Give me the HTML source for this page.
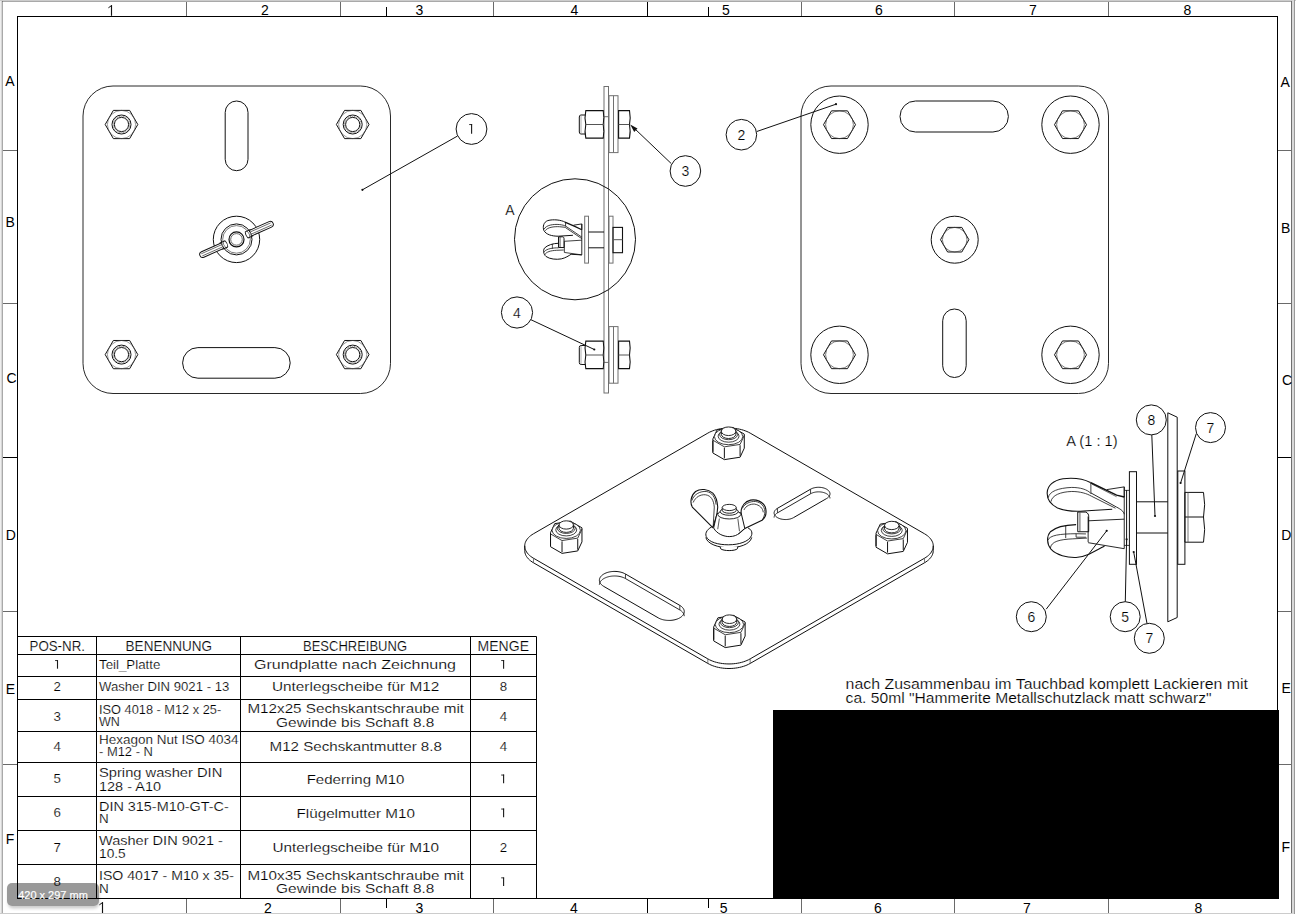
<!DOCTYPE html>
<html><head><meta charset="utf-8"><style>
html,body{margin:0;padding:0;background:#fff;width:1296px;height:914px;overflow:hidden}
svg{display:block}
text{font-family:"Liberation Sans",sans-serif;stroke:#fff;stroke-width:0.18px}
</style></head><body>
<svg width="1296" height="914" viewBox="0 0 1296 914">
<rect x="0" y="0" width="1" height="914" fill="#eeeeee" stroke="none" stroke-width="1" rx="0" />
<rect x="1" y="0" width="1" height="914" fill="#d6d6d6" stroke="none" stroke-width="1" rx="0" />
<rect x="2" y="0" width="1" height="913" fill="#a9a9a9" stroke="none" stroke-width="1" rx="0" />
<rect x="0" y="0" width="1296" height="1" fill="#cccccc" stroke="none" stroke-width="1" rx="0" />
<rect x="2" y="1" width="1289" height="1" fill="#a9a9a9" stroke="none" stroke-width="1" rx="0" />
<rect x="2" y="1" width="1" height="1" fill="#777" stroke="none" stroke-width="1" rx="0" />
<rect x="1291" y="1" width="1" height="912" fill="#707070" stroke="none" stroke-width="1" rx="0" />
<rect x="1292" y="0" width="2" height="914" fill="#d8d8d8" stroke="none" stroke-width="1" rx="0" />
<rect x="1294" y="0" width="1" height="914" fill="#999999" stroke="none" stroke-width="1" rx="0" />
<rect x="0" y="913" width="1292" height="1" fill="#cccccc" stroke="none" stroke-width="1" rx="0" />
<rect x="17.5" y="16.5" width="1260" height="882" fill="none" stroke="#000" stroke-width="1" rx="0" />
<line x1="186.5" y1="2" x2="186.5" y2="16" stroke="#6a6a6a" stroke-width="1" />
<line x1="186.5" y1="899" x2="186.5" y2="913" stroke="#6a6a6a" stroke-width="1" />
<line x1="340.5" y1="2" x2="340.5" y2="16" stroke="#6a6a6a" stroke-width="1" />
<line x1="340.5" y1="899" x2="340.5" y2="913" stroke="#6a6a6a" stroke-width="1" />
<line x1="493.5" y1="2" x2="493.5" y2="16" stroke="#6a6a6a" stroke-width="1" />
<line x1="493.5" y1="899" x2="493.5" y2="913" stroke="#6a6a6a" stroke-width="1" />
<line x1="801.5" y1="2" x2="801.5" y2="16" stroke="#6a6a6a" stroke-width="1" />
<line x1="801.5" y1="899" x2="801.5" y2="913" stroke="#6a6a6a" stroke-width="1" />
<line x1="954.5" y1="2" x2="954.5" y2="16" stroke="#6a6a6a" stroke-width="1" />
<line x1="954.5" y1="899" x2="954.5" y2="913" stroke="#6a6a6a" stroke-width="1" />
<line x1="1108.5" y1="2" x2="1108.5" y2="16" stroke="#6a6a6a" stroke-width="1" />
<line x1="1108.5" y1="899" x2="1108.5" y2="913" stroke="#6a6a6a" stroke-width="1" />
<line x1="647.5" y1="2" x2="647.5" y2="16" stroke="#000" stroke-width="1" />
<line x1="647.5" y1="899" x2="647.5" y2="913" stroke="#000" stroke-width="1" />
<line x1="386.5" y1="7" x2="386.5" y2="16" stroke="#000" stroke-width="1" />
<line x1="386.5" y1="899" x2="386.5" y2="908" stroke="#000" stroke-width="1" />
<line x1="708.5" y1="7" x2="708.5" y2="16" stroke="#000" stroke-width="1" />
<line x1="708.5" y1="899" x2="708.5" y2="908" stroke="#000" stroke-width="1" />
<line x1="3" y1="150.5" x2="17" y2="150.5" stroke="#6a6a6a" stroke-width="1" />
<line x1="1278" y1="150.5" x2="1291" y2="150.5" stroke="#6a6a6a" stroke-width="1" />
<line x1="3" y1="303.5" x2="17" y2="303.5" stroke="#6a6a6a" stroke-width="1" />
<line x1="1278" y1="303.5" x2="1291" y2="303.5" stroke="#6a6a6a" stroke-width="1" />
<line x1="3" y1="611.5" x2="17" y2="611.5" stroke="#6a6a6a" stroke-width="1" />
<line x1="1278" y1="611.5" x2="1291" y2="611.5" stroke="#6a6a6a" stroke-width="1" />
<line x1="3" y1="764.5" x2="17" y2="764.5" stroke="#6a6a6a" stroke-width="1" />
<line x1="1278" y1="764.5" x2="1291" y2="764.5" stroke="#6a6a6a" stroke-width="1" />
<line x1="3" y1="457.5" x2="17" y2="457.5" stroke="#000" stroke-width="1" />
<line x1="1278" y1="457.5" x2="1291" y2="457.5" stroke="#000" stroke-width="1" />
<path d="M111.5,5.2 L111.5,15.8" stroke="#111" stroke-width="1.15" fill="none"/>
<path d="M111.8,5.4 L108.4,7.8" stroke="#111" stroke-width="1" fill="none"/>
<text x="265" y="14.8" font-size="14" text-anchor="middle" fill="#000" font-family="Liberation Sans" style="stroke:none">2</text>
<text x="419.5" y="14.8" font-size="14" text-anchor="middle" fill="#000" font-family="Liberation Sans" style="stroke:none">3</text>
<text x="574.5" y="14.8" font-size="14" text-anchor="middle" fill="#000" font-family="Liberation Sans" style="stroke:none">4</text>
<text x="725.8" y="14.8" font-size="14" text-anchor="middle" fill="#000" font-family="Liberation Sans" style="stroke:none">5</text>
<text x="879" y="14.8" font-size="14" text-anchor="middle" fill="#000" font-family="Liberation Sans" style="stroke:none">6</text>
<text x="1033" y="14.8" font-size="14" text-anchor="middle" fill="#000" font-family="Liberation Sans" style="stroke:none">7</text>
<text x="1187.5" y="14.8" font-size="14" text-anchor="middle" fill="#000" font-family="Liberation Sans" style="stroke:none">8</text>
<path d="M102.5,902.2 L102.5,913" stroke="#111" stroke-width="1.15" fill="none"/>
<path d="M102.8,902.4 L99.4,904.8" stroke="#111" stroke-width="1" fill="none"/>
<text x="268" y="913" font-size="14" text-anchor="middle" fill="#000" font-family="Liberation Sans" style="stroke:none">2</text>
<text x="419.5" y="913" font-size="14" text-anchor="middle" fill="#000" font-family="Liberation Sans" style="stroke:none">3</text>
<text x="574" y="913" font-size="14" text-anchor="middle" fill="#000" font-family="Liberation Sans" style="stroke:none">4</text>
<text x="723.7" y="913" font-size="14" text-anchor="middle" fill="#000" font-family="Liberation Sans" style="stroke:none">5</text>
<text x="878" y="913" font-size="14" text-anchor="middle" fill="#000" font-family="Liberation Sans" style="stroke:none">6</text>
<text x="1026.8" y="913" font-size="14" text-anchor="middle" fill="#000" font-family="Liberation Sans" style="stroke:none">7</text>
<text x="1198.4" y="913" font-size="14" text-anchor="middle" fill="#000" font-family="Liberation Sans" style="stroke:none">8</text>
<text x="9.9" y="85.7" font-size="14" text-anchor="middle" fill="#000" font-family="Liberation Sans" style="stroke:none">A</text>
<text x="10.2" y="226.5" font-size="14" text-anchor="middle" fill="#000" font-family="Liberation Sans" style="stroke:none">B</text>
<text x="11.5" y="383" font-size="14" text-anchor="middle" fill="#000" font-family="Liberation Sans" style="stroke:none">C</text>
<text x="10.7" y="539.7" font-size="14" text-anchor="middle" fill="#000" font-family="Liberation Sans" style="stroke:none">D</text>
<text x="10.5" y="693.7" font-size="14" text-anchor="middle" fill="#000" font-family="Liberation Sans" style="stroke:none">E</text>
<text x="10.1" y="843.6" font-size="14" text-anchor="middle" fill="#000" font-family="Liberation Sans" style="stroke:none">F</text>
<text x="1285.2" y="86.6" font-size="14" text-anchor="middle" fill="#000" font-family="Liberation Sans" style="stroke:none">A</text>
<text x="1285.7" y="233.2" font-size="14" text-anchor="middle" fill="#000" font-family="Liberation Sans" style="stroke:none">B</text>
<text x="1287.1" y="385" font-size="14" text-anchor="middle" fill="#000" font-family="Liberation Sans" style="stroke:none">C</text>
<text x="1286.3" y="540" font-size="14" text-anchor="middle" fill="#000" font-family="Liberation Sans" style="stroke:none">D</text>
<text x="1286.1" y="693" font-size="14" text-anchor="middle" fill="#000" font-family="Liberation Sans" style="stroke:none">E</text>
<text x="1285.8" y="852" font-size="14" text-anchor="middle" fill="#000" font-family="Liberation Sans" style="stroke:none">F</text>
<line x1="17.5" y1="636.5" x2="17.5" y2="898.5" stroke="#000" stroke-width="1" />
<line x1="96.5" y1="636.5" x2="96.5" y2="898.5" stroke="#000" stroke-width="1" />
<line x1="240.5" y1="636.5" x2="240.5" y2="898.5" stroke="#000" stroke-width="1" />
<line x1="470.5" y1="636.5" x2="470.5" y2="898.5" stroke="#000" stroke-width="1" />
<line x1="536.5" y1="636.5" x2="536.5" y2="898.5" stroke="#000" stroke-width="1" />
<line x1="17.5" y1="636.5" x2="536.5" y2="636.5" stroke="#000" stroke-width="1" />
<line x1="17.5" y1="654.5" x2="536.5" y2="654.5" stroke="#000" stroke-width="1" />
<line x1="17.5" y1="676.5" x2="536.5" y2="676.5" stroke="#000" stroke-width="1" />
<line x1="17.5" y1="699.5" x2="536.5" y2="699.5" stroke="#000" stroke-width="1" />
<line x1="17.5" y1="731.5" x2="536.5" y2="731.5" stroke="#000" stroke-width="1" />
<line x1="17.5" y1="762.5" x2="536.5" y2="762.5" stroke="#000" stroke-width="1" />
<line x1="17.5" y1="796.5" x2="536.5" y2="796.5" stroke="#000" stroke-width="1" />
<line x1="17.5" y1="830.5" x2="536.5" y2="830.5" stroke="#000" stroke-width="1" />
<line x1="17.5" y1="864.5" x2="536.5" y2="864.5" stroke="#000" stroke-width="1" />
<line x1="17.5" y1="898.5" x2="536.5" y2="898.5" stroke="#000" stroke-width="1" />
<text x="29.5" y="651.1" font-size="14" text-anchor="start" fill="#000" font-family="Liberation Sans" textLength="55.5" lengthAdjust="spacingAndGlyphs" >POS-NR.</text>
<text x="125.6" y="651.1" font-size="14" text-anchor="start" fill="#000" font-family="Liberation Sans" textLength="86.4" lengthAdjust="spacingAndGlyphs" >BENENNUNG</text>
<text x="303" y="651.1" font-size="14" text-anchor="start" fill="#000" font-family="Liberation Sans" textLength="104" lengthAdjust="spacingAndGlyphs" >BESCHREIBUNG</text>
<text x="477.6" y="651.1" font-size="14" text-anchor="start" fill="#000" font-family="Liberation Sans" textLength="51.4" lengthAdjust="spacingAndGlyphs" >MENGE</text>
<path d="M57.5,660.1 L57.5,668.7" stroke="#1a1a1a" stroke-width="1.1" fill="none"/>
<path d="M55.1,660.55 L58,660.55" stroke="#1a1a1a" stroke-width="0.9" fill="none"/>
<path d="M503.6,660.1 L503.6,668.7" stroke="#1a1a1a" stroke-width="1.1" fill="none"/>
<path d="M501.2,660.55 L504.1,660.55" stroke="#1a1a1a" stroke-width="0.9" fill="none"/>
<text x="57.2" y="691" font-size="13.3" text-anchor="middle" fill="#000" font-family="Liberation Sans" >2</text>
<text x="503.5" y="691" font-size="13.3" text-anchor="middle" fill="#000" font-family="Liberation Sans" >8</text>
<text x="57.2" y="720.8" font-size="13.3" text-anchor="middle" fill="#000" font-family="Liberation Sans" >3</text>
<text x="503.5" y="720.8" font-size="13.3" text-anchor="middle" fill="#000" font-family="Liberation Sans" >4</text>
<text x="57.2" y="751.3" font-size="13.3" text-anchor="middle" fill="#000" font-family="Liberation Sans" >4</text>
<text x="503.5" y="751.3" font-size="13.3" text-anchor="middle" fill="#000" font-family="Liberation Sans" >4</text>
<text x="57.2" y="783.2" font-size="13.3" text-anchor="middle" fill="#000" font-family="Liberation Sans" >5</text>
<path d="M503.6,774.6 L503.6,783.2" stroke="#1a1a1a" stroke-width="1.1" fill="none"/>
<path d="M501.2,775.05 L504.1,775.05" stroke="#1a1a1a" stroke-width="0.9" fill="none"/>
<text x="57.2" y="817.2" font-size="13.3" text-anchor="middle" fill="#000" font-family="Liberation Sans" >6</text>
<path d="M503.6,808.6 L503.6,817.2" stroke="#1a1a1a" stroke-width="1.1" fill="none"/>
<path d="M501.2,809.05 L504.1,809.05" stroke="#1a1a1a" stroke-width="0.9" fill="none"/>
<text x="57.2" y="852" font-size="13.3" text-anchor="middle" fill="#000" font-family="Liberation Sans" >7</text>
<text x="503.5" y="852" font-size="13.3" text-anchor="middle" fill="#000" font-family="Liberation Sans" >2</text>
<text x="57.2" y="886" font-size="13.3" text-anchor="middle" fill="#000" font-family="Liberation Sans" >8</text>
<path d="M503.6,877.4 L503.6,886" stroke="#1a1a1a" stroke-width="1.1" fill="none"/>
<path d="M501.2,877.85 L504.1,877.85" stroke="#1a1a1a" stroke-width="0.9" fill="none"/>
<text x="99" y="668.7" font-size="12.8" text-anchor="start" fill="#000" font-family="Liberation Sans" textLength="61.3" lengthAdjust="spacingAndGlyphs" >Teil_Platte</text>
<text x="99" y="691" font-size="13" text-anchor="start" fill="#000" font-family="Liberation Sans" textLength="130.3" lengthAdjust="spacingAndGlyphs" >Washer DIN 9021 - 13</text>
<text x="99" y="713.9" font-size="12.7" text-anchor="start" fill="#000" font-family="Liberation Sans" textLength="122.2" lengthAdjust="spacingAndGlyphs" >ISO 4018 - M12 x 25-</text>
<text x="99" y="725.8" font-size="12.7" text-anchor="start" fill="#000" font-family="Liberation Sans" textLength="20.9" lengthAdjust="spacingAndGlyphs" >WN</text>
<text x="99" y="743.9" font-size="12.6" text-anchor="start" fill="#000" font-family="Liberation Sans" textLength="139.5" lengthAdjust="spacingAndGlyphs" >Hexagon Nut ISO 4034</text>
<text x="99" y="756.4" font-size="12.6" text-anchor="start" fill="#000" font-family="Liberation Sans" textLength="53.9" lengthAdjust="spacingAndGlyphs" >- M12 - N</text>
<text x="99" y="776.8" font-size="13.5" text-anchor="start" fill="#000" font-family="Liberation Sans" textLength="123.3" lengthAdjust="spacingAndGlyphs" >Spring washer DIN</text>
<text x="99" y="790.7" font-size="13.5" text-anchor="start" fill="#000" font-family="Liberation Sans" textLength="62" lengthAdjust="spacingAndGlyphs" >128 - A10</text>
<text x="99" y="810.9" font-size="13.4" text-anchor="start" fill="#000" font-family="Liberation Sans" textLength="129.7" lengthAdjust="spacingAndGlyphs" >DIN 315-M10-GT-C-</text>
<text x="99" y="823.4" font-size="13.4" text-anchor="start" fill="#000" font-family="Liberation Sans" >N</text>
<text x="99" y="844.8" font-size="13.5" text-anchor="start" fill="#000" font-family="Liberation Sans" textLength="123.9" lengthAdjust="spacingAndGlyphs" >Washer DIN 9021 -</text>
<text x="99" y="857.9" font-size="13.5" text-anchor="start" fill="#000" font-family="Liberation Sans" textLength="26.7" lengthAdjust="spacingAndGlyphs" >10.5</text>
<text x="99" y="879.5" font-size="13.5" text-anchor="start" fill="#000" font-family="Liberation Sans" textLength="134.9" lengthAdjust="spacingAndGlyphs" >ISO 4017 - M10 x 35-</text>
<text x="99" y="893.4" font-size="13.5" text-anchor="start" fill="#000" font-family="Liberation Sans" >N</text>
<text x="254" y="668.7" font-size="13.5" text-anchor="start" fill="#000" font-family="Liberation Sans" textLength="202" lengthAdjust="spacingAndGlyphs" >Grundplatte nach Zeichnung</text>
<text x="271.9" y="691" font-size="13.5" text-anchor="start" fill="#000" font-family="Liberation Sans" textLength="167.4" lengthAdjust="spacingAndGlyphs" >Unterlegscheibe für M12</text>
<text x="247.4" y="712.8" font-size="13.5" text-anchor="start" fill="#000" font-family="Liberation Sans" textLength="216.7" lengthAdjust="spacingAndGlyphs" >M12x25 Sechskantschraube mit</text>
<text x="276.1" y="726.7" font-size="13.5" text-anchor="start" fill="#000" font-family="Liberation Sans" textLength="158.3" lengthAdjust="spacingAndGlyphs" >Gewinde bis Schaft 8.8</text>
<text x="269.6" y="750.8" font-size="13.5" text-anchor="start" fill="#000" font-family="Liberation Sans" textLength="172.3" lengthAdjust="spacingAndGlyphs" >M12 Sechskantmutter 8.8</text>
<text x="306.7" y="783.7" font-size="13.5" text-anchor="start" fill="#000" font-family="Liberation Sans" textLength="97.7" lengthAdjust="spacingAndGlyphs" >Federring M10</text>
<text x="296.5" y="817.8" font-size="13.5" text-anchor="start" fill="#000" font-family="Liberation Sans" textLength="118.5" lengthAdjust="spacingAndGlyphs" >Flügelmutter M10</text>
<text x="272.4" y="851.9" font-size="13.5" text-anchor="start" fill="#000" font-family="Liberation Sans" textLength="166.7" lengthAdjust="spacingAndGlyphs" >Unterlegscheibe für M10</text>
<text x="247.4" y="880" font-size="13.5" text-anchor="start" fill="#000" font-family="Liberation Sans" textLength="216.7" lengthAdjust="spacingAndGlyphs" >M10x35 Sechskantschraube mit</text>
<text x="276.1" y="893.3" font-size="13.5" text-anchor="start" fill="#000" font-family="Liberation Sans" textLength="158.3" lengthAdjust="spacingAndGlyphs" >Gewinde bis Schaft 8.8</text>
<text x="845.6" y="689.1" font-size="14.4" text-anchor="start" fill="#000" font-family="Liberation Sans" textLength="402.4" lengthAdjust="spacingAndGlyphs" >nach Zusammenbau im Tauchbad komplett Lackieren mit</text>
<text x="845.6" y="702.6" font-size="14.4" text-anchor="start" fill="#000" font-family="Liberation Sans" textLength="366" lengthAdjust="spacingAndGlyphs" >ca. 50ml &quot;Hammerite Metallschutzlack matt schwarz&quot;</text>
<rect x="773" y="710" width="506" height="189" fill="#000" stroke="none" stroke-width="1" rx="0" />
<defs><filter id="sh" x="-20%" y="-40%" width="140%" height="190%"><feGaussianBlur stdDeviation="1.6"/></filter></defs>
<mask id="bm"><rect x="0" y="860" width="130" height="54" fill="#fff"/><rect x="7" y="883" width="92" height="23" rx="5" fill="#000"/></mask>
<g mask="url(#bm)"><rect x="8" y="885.5" width="91" height="23" rx="5" fill="#000" fill-opacity="0.2" filter="url(#sh)"/></g>
<rect x="7" y="883" width="92" height="23" rx="5" fill="#000" fill-opacity="0.4"/>
<text x="53" y="898.5" font-size="11" text-anchor="middle" fill="#fff" font-family="Liberation Sans" >420 x 297 mm</text>
<rect x="83" y="86" width="307.5" height="307.5" fill="none" stroke="#111" stroke-width="0.9" rx="30" />
<path d="M137.8,124.5 L129.65,138.62 L113.35,138.62 L105.2,124.5 L113.35,110.38 L129.65,110.38 Z" stroke="#111" stroke-width="1" fill="none" />
<circle cx="121.5" cy="124.5" r="14.1" stroke="#555" stroke-width="0.6" fill="none" />
<circle cx="121.5" cy="124.5" r="9.5" stroke="#111" stroke-width="1" fill="none" />
<circle cx="121.5" cy="124.5" r="8.3" stroke="#777" stroke-width="1" fill="none" stroke-dasharray="1.2 0.8"/>
<circle cx="121.5" cy="124.5" r="7.1" stroke="#111" stroke-width="1" fill="none" />
<path d="M137.8,354.6 L129.65,368.72 L113.35,368.72 L105.2,354.6 L113.35,340.48 L129.65,340.48 Z" stroke="#111" stroke-width="1" fill="none" />
<circle cx="121.5" cy="354.6" r="14.1" stroke="#555" stroke-width="0.6" fill="none" />
<circle cx="121.5" cy="354.6" r="9.5" stroke="#111" stroke-width="1" fill="none" />
<circle cx="121.5" cy="354.6" r="8.3" stroke="#777" stroke-width="1" fill="none" stroke-dasharray="1.2 0.8"/>
<circle cx="121.5" cy="354.6" r="7.1" stroke="#111" stroke-width="1" fill="none" />
<path d="M369,124.5 L360.85,138.62 L344.55,138.62 L336.4,124.5 L344.55,110.38 L360.85,110.38 Z" stroke="#111" stroke-width="1" fill="none" />
<circle cx="352.7" cy="124.5" r="14.1" stroke="#555" stroke-width="0.6" fill="none" />
<circle cx="352.7" cy="124.5" r="9.5" stroke="#111" stroke-width="1" fill="none" />
<circle cx="352.7" cy="124.5" r="8.3" stroke="#777" stroke-width="1" fill="none" stroke-dasharray="1.2 0.8"/>
<circle cx="352.7" cy="124.5" r="7.1" stroke="#111" stroke-width="1" fill="none" />
<path d="M369,354.6 L360.85,368.72 L344.55,368.72 L336.4,354.6 L344.55,340.48 L360.85,340.48 Z" stroke="#111" stroke-width="1" fill="none" />
<circle cx="352.7" cy="354.6" r="14.1" stroke="#555" stroke-width="0.6" fill="none" />
<circle cx="352.7" cy="354.6" r="9.5" stroke="#111" stroke-width="1" fill="none" />
<circle cx="352.7" cy="354.6" r="8.3" stroke="#777" stroke-width="1" fill="none" stroke-dasharray="1.2 0.8"/>
<circle cx="352.7" cy="354.6" r="7.1" stroke="#111" stroke-width="1" fill="none" />
<rect x="225.2" y="101" width="22.8" height="69.7" fill="none" stroke="#111" stroke-width="1" rx="11.4" />
<rect x="182.6" y="347.6" width="107.6" height="30.6" fill="none" stroke="#111" stroke-width="1" rx="15.3" />
<circle cx="236.5" cy="239.4" r="23.2" stroke="#111" stroke-width="1" fill="none" />
<g transform="translate(236.5,239.4) rotate(-24)"><rect x="-40" y="-3" width="80" height="6" rx="3" fill="#fff" stroke="#111" stroke-width="1"/><line x1="-38" y1="-1.2" x2="38" y2="-1.2" stroke="#444" stroke-width="0.7"/><line x1="-38" y1="1.2" x2="38" y2="1.2" stroke="#444" stroke-width="0.7"/></g>
<circle cx="236.5" cy="239.4" r="15.5" stroke="#111" stroke-width="1" fill="#fff" />
<circle cx="236.5" cy="239.4" r="13.8" stroke="#444" stroke-width="0.7" fill="none" />
<g transform="translate(236.5,239.4) rotate(-24)"><path d="M11,-3.4 L17,-3.4 M11,3.4 L17,3.4 M11,-3.4 Q9.6,0 11,3.4" fill="none" stroke="#111" stroke-width="0.9"/><path d="M-11,-3.4 L-17,-3.4 M-11,3.4 L-17,3.4 M-11,-3.4 Q-9.6,0 -11,3.4" fill="none" stroke="#111" stroke-width="0.9"/></g>
<circle cx="236.5" cy="239.4" r="7.5" stroke="#111" stroke-width="1.2" fill="none" />
<circle cx="236.5" cy="239.4" r="5.8" stroke="#444" stroke-width="0.8" fill="none" />
<line x1="362.4" y1="189.8" x2="457.4" y2="136.1" stroke="#111" stroke-width="1" />
<circle cx="362.4" cy="189.8" r="1.1" stroke="none" stroke-width="1" fill="#111" />
<circle cx="471.5" cy="129" r="15.4" stroke="#111" stroke-width="1" fill="none" />
<path d="M471.6,124.1 L471.6,133.8" stroke="#1a1a1a" stroke-width="1.1" fill="none"/><path d="M469.2,124.55 L472.1,124.55" stroke="#1a1a1a" stroke-width="0.9" fill="none"/>
<rect x="604" y="86.5" width="4.5" height="306.5" fill="none" stroke="#707070" stroke-width="1" rx="0" />
<line x1="604" y1="116.7" x2="608.5" y2="116.7" stroke="#707070" stroke-width="1" />
<line x1="604" y1="362.4" x2="608.5" y2="362.4" stroke="#707070" stroke-width="1" />
<rect x="609" y="95.7" width="9" height="56.9" fill="none" stroke="#707070" stroke-width="1" rx="0" />
<line x1="613.5" y1="95.7" x2="613.5" y2="152.6" stroke="#707070" stroke-width="1" />
<rect x="609" y="326.6" width="9" height="56.6" fill="none" stroke="#707070" stroke-width="1" rx="0" />
<line x1="613.5" y1="326.6" x2="613.5" y2="383.2" stroke="#707070" stroke-width="1" />
<path d="M603.7,110.6 L585.8,110.6 Q584.3,117.5 585.8,124.5 Q584.3,131.5 585.8,138.1 L603.7,138.1" stroke="#111" stroke-width="1.1" fill="none" />
<path d="M603.2,110.6 Q604.5,117.5 603.2,124.5 Q604.5,131.5 603.2,138.1" stroke="#111" stroke-width="1" fill="none" />
<line x1="585.8" y1="124.5" x2="603.4" y2="124.5" stroke="#555" stroke-width="1" />
<path d="M585.3,115 L581,115 Q579.3,115 579.3,117 L579.3,132 Q579.3,134 581,134 L585.3,134" stroke="#111" stroke-width="1" fill="none" />
<line x1="581" y1="115" x2="581" y2="134" stroke="#999" stroke-width="0.8" />
<path d="M618.6,110.6 L629.5,110.6 Q630.8,117.5 629.5,124.5 Q630.8,131.5 629.5,138.1 L618.6,138.1 Z" stroke="#111" stroke-width="1.1" fill="none" />
<line x1="618.6" y1="124.5" x2="629.5" y2="124.5" stroke="#555" stroke-width="1" />
<path d="M603.7,341.1 L585.8,341.1 Q584.3,348 585.8,355 Q584.3,362 585.8,368.6 L603.7,368.6" stroke="#111" stroke-width="1.1" fill="none" />
<path d="M603.2,341.1 Q604.5,348 603.2,355 Q604.5,362 603.2,368.6" stroke="#111" stroke-width="1" fill="none" />
<line x1="585.8" y1="355" x2="603.4" y2="355" stroke="#555" stroke-width="1" />
<path d="M585.3,345.5 L581,345.5 Q579.3,345.5 579.3,347.5 L579.3,362.5 Q579.3,364.5 581,364.5 L585.3,364.5" stroke="#111" stroke-width="1" fill="none" />
<line x1="581" y1="345.5" x2="581" y2="364.5" stroke="#999" stroke-width="0.8" />
<path d="M618.6,341.1 L629.5,341.1 Q630.8,348 629.5,355 Q630.8,362 629.5,368.6 L618.6,368.6 Z" stroke="#111" stroke-width="1.1" fill="none" />
<line x1="618.6" y1="355" x2="629.5" y2="355" stroke="#555" stroke-width="1" />
<circle cx="575" cy="239.3" r="60.5" stroke="#111" stroke-width="1" fill="none" />
<text x="510" y="214.5" font-size="14" text-anchor="middle" fill="#000" font-family="Liberation Sans" >A</text>
<rect x="584.7" y="216.2" width="3.8" height="46.9" fill="#fff" stroke="#707070" stroke-width="1" rx="0" />
<line x1="588.5" y1="232" x2="604" y2="232" stroke="#111" stroke-width="1" />
<line x1="588.5" y1="247.8" x2="604" y2="247.8" stroke="#111" stroke-width="1" />
<rect x="609" y="216.2" width="4" height="46.9" fill="none" stroke="#707070" stroke-width="1" rx="0" />
<rect x="613" y="227.4" width="9.5" height="25.3" fill="none" stroke="#111" stroke-width="1.1" rx="0" />
<line x1="613" y1="239.7" x2="622.5" y2="239.7" stroke="#555" stroke-width="1" />
<g transform="translate(538,212) scale(0.061275)"><path d="M440,165 C380,130 250,115 160,140 C90,165 75,240 95,300 C130,370 230,395 330,395 L570,380" fill="none" stroke="#111" stroke-width="1" vector-effect="non-scaling-stroke"/><path d="M100,280 C130,215 250,195 350,205 C400,210 430,220 450,230" fill="none" stroke="#111" stroke-width="0.8" vector-effect="non-scaling-stroke"/><path d="M120,305 C150,250 260,235 350,240 L445,250" fill="none" stroke="#111" stroke-width="0.8" vector-effect="non-scaling-stroke"/><path d="M440,165 L600,235 L715,290" fill="none" stroke="#111" stroke-width="1.2" vector-effect="non-scaling-stroke"/><path d="M450,230 L715,410" fill="none" stroke="#111" stroke-width="0.8" vector-effect="non-scaling-stroke"/><path d="M445,252 L715,435" fill="none" stroke="#111" stroke-width="0.8" vector-effect="non-scaling-stroke"/><path d="M580,215 L715,195 L715,290" fill="none" stroke="#111" stroke-width="0.9" vector-effect="non-scaling-stroke"/><path d="M450,170 L450,235" fill="none" stroke="#111" stroke-width="0.8" vector-effect="non-scaling-stroke"/><path d="M430,478 L715,460" fill="none" stroke="#111" stroke-width="0.8" vector-effect="non-scaling-stroke"/><path d="M430,478 L430,660" fill="none" stroke="#111" stroke-width="0.8" vector-effect="non-scaling-stroke"/><path d="M430,660 L715,700" fill="none" stroke="#111" stroke-width="0.8" vector-effect="non-scaling-stroke"/><path d="M715,195 L715,700" fill="none" stroke="#111" stroke-width="0.9" vector-effect="non-scaling-stroke"/><path d="M335,405 L405,405 C420,410 425,425 425,440 L425,580 L335,580 Z" fill="none" stroke="#111" stroke-width="1" vector-effect="non-scaling-stroke"/><path d="M360,410 L360,578" fill="none" stroke="#111" stroke-width="0.7" vector-effect="non-scaling-stroke"/><path d="M335,510 C250,512 150,540 105,590 C80,630 90,690 130,725 C190,770 300,780 380,765 C450,750 500,715 540,690 L715,700" fill="none" stroke="#111" stroke-width="1" vector-effect="non-scaling-stroke"/><path d="M95,660 C120,610 200,590 300,585 L335,585" fill="none" stroke="#111" stroke-width="0.8" vector-effect="non-scaling-stroke"/><path d="M110,700 C130,650 210,630 300,625 L420,620" fill="none" stroke="#111" stroke-width="0.8" vector-effect="non-scaling-stroke"/><path d="M235,520 L235,600" fill="none" stroke="#111" stroke-width="0.7" vector-effect="non-scaling-stroke"/></g>
<line x1="671.2" y1="163.5" x2="634" y2="128" stroke="#111" stroke-width="1" />
<path d="M630.2,124.6 L637.5,128.6 L634.2,132 Z" stroke="none" stroke-width="1" fill="#111" />
<circle cx="685.4" cy="171" r="15.3" stroke="#111" stroke-width="1" fill="none" />
<text x="685.4" y="176" font-size="14" text-anchor="middle" fill="#000" font-family="Liberation Sans" >3</text>
<line x1="530.9" y1="319.7" x2="594.3" y2="349.5" stroke="#111" stroke-width="1" />
<circle cx="594.3" cy="349.5" r="1.1" stroke="none" stroke-width="1" fill="#111" />
<circle cx="517" cy="312.5" r="15.6" stroke="#111" stroke-width="1" fill="none" />
<text x="517" y="317.5" font-size="14" text-anchor="middle" fill="#000" font-family="Liberation Sans" >4</text>
<rect x="801" y="86" width="307.5" height="307.5" fill="none" stroke="#111" stroke-width="0.9" rx="30" />
<circle cx="839.5" cy="124.7" r="28.7" stroke="#111" stroke-width="1" fill="none" />
<path d="M855.5,124.7 L847.5,138.56 L831.5,138.56 L823.5,124.7 L831.5,110.84 L847.5,110.84 Z" stroke="#111" stroke-width="1" fill="none" />
<circle cx="839.5" cy="124.7" r="13.9" stroke="#444" stroke-width="0.7" fill="none" />
<circle cx="839.5" cy="354.8" r="28.7" stroke="#111" stroke-width="1" fill="none" />
<path d="M855.5,354.8 L847.5,368.66 L831.5,368.66 L823.5,354.8 L831.5,340.94 L847.5,340.94 Z" stroke="#111" stroke-width="1" fill="none" />
<circle cx="839.5" cy="354.8" r="13.9" stroke="#444" stroke-width="0.7" fill="none" />
<circle cx="1070.5" cy="124.7" r="28.7" stroke="#111" stroke-width="1" fill="none" />
<path d="M1086.5,124.7 L1078.5,138.56 L1062.5,138.56 L1054.5,124.7 L1062.5,110.84 L1078.5,110.84 Z" stroke="#111" stroke-width="1" fill="none" />
<circle cx="1070.5" cy="124.7" r="13.9" stroke="#444" stroke-width="0.7" fill="none" />
<circle cx="1070.5" cy="354.8" r="28.7" stroke="#111" stroke-width="1" fill="none" />
<path d="M1086.5,354.8 L1078.5,368.66 L1062.5,368.66 L1054.5,354.8 L1062.5,340.94 L1078.5,340.94 Z" stroke="#111" stroke-width="1" fill="none" />
<circle cx="1070.5" cy="354.8" r="13.9" stroke="#444" stroke-width="0.7" fill="none" />
<circle cx="954.7" cy="239.7" r="23.5" stroke="#111" stroke-width="1" fill="none" />
<path d="M968.9,239.7 L961.8,252 L947.6,252 L940.5,239.7 L947.6,227.4 L961.8,227.4 Z" stroke="#111" stroke-width="1" fill="none" />
<circle cx="954.7" cy="239.7" r="12.3" stroke="#444" stroke-width="0.7" fill="none" />
<rect x="900" y="101" width="108.4" height="31" fill="none" stroke="#111" stroke-width="1" rx="15.5" />
<rect x="942.7" y="309" width="23.5" height="68.5" fill="none" stroke="#111" stroke-width="1" rx="11.75" />
<line x1="756.8" y1="131.5" x2="836" y2="104.2" stroke="#111" stroke-width="1" />
<circle cx="836" cy="104.2" r="1.1" stroke="none" stroke-width="1" fill="#111" />
<circle cx="741.4" cy="134.7" r="15.3" stroke="#111" stroke-width="1" fill="none" />
<text x="741.4" y="139.7" font-size="14" text-anchor="middle" fill="#000" font-family="Liberation Sans" >2</text>
<path d="M933.28,550.56 L933.2,551.8 L932.98,553.02 L932.6,554.24 L932.07,555.43 L931.39,556.61 L930.57,557.75 L929.62,558.85 L928.53,559.91 L927.31,560.92 L925.97,561.89 L924.51,562.79 L750.17,663.44 L748.61,664.28 L746.95,665.06 L745.19,665.76 L743.35,666.39 L741.44,666.94 L739.46,667.42 L737.44,667.8 L735.37,668.11 L733.26,668.33 L731.14,668.46 L729,668.51 L726.86,668.46 L724.74,668.33 L722.63,668.11 L720.56,667.8 L718.54,667.42 L716.56,666.94 L714.65,666.39 L712.81,665.76 L711.05,665.06 L709.39,664.28 L707.83,663.44 L533.49,562.79 L532.03,561.89 L530.69,560.92 L529.47,559.91 L528.38,558.85 L527.43,557.75 L526.61,556.61 L525.93,555.43 L525.4,554.24 L525.02,553.02 L524.8,551.8 L524.72,550.56" stroke="#111" stroke-width="1" fill="#fff" />
<path d="M750.17,658.88 L748.61,659.72 L746.95,660.49 L745.19,661.2 L743.35,661.83 L741.44,662.38 L739.46,662.85 L737.44,663.24 L735.37,663.55 L733.26,663.77 L731.14,663.9 L729,663.94 L726.86,663.9 L724.74,663.77 L722.63,663.55 L720.56,663.24 L718.54,662.85 L716.56,662.38 L714.65,661.83 L712.81,661.2 L711.05,660.49 L709.39,659.72 L707.83,658.88 L533.49,558.23 L532.03,557.32 L530.69,556.36 L529.47,555.35 L528.38,554.29 L527.43,553.18 L526.61,552.04 L525.93,550.87 L525.4,549.67 L525.02,548.46 L524.8,547.23 L524.72,546 L524.8,544.77 L525.02,543.54 L525.4,542.33 L525.93,541.13 L526.61,539.96 L527.43,538.82 L528.38,537.71 L529.47,536.65 L530.69,535.64 L532.03,534.68 L533.49,533.77 L707.83,433.12 L709.39,432.28 L711.05,431.51 L712.81,430.8 L714.65,430.17 L716.56,429.62 L718.54,429.15 L720.56,428.76 L722.63,428.45 L724.74,428.23 L726.86,428.1 L729,428.06 L731.14,428.1 L733.26,428.23 L735.37,428.45 L737.44,428.76 L739.46,429.15 L741.44,429.62 L743.35,430.17 L745.19,430.8 L746.95,431.51 L748.61,432.28 L750.17,433.12 L924.51,533.77 L925.97,534.68 L927.31,535.64 L928.53,536.65 L929.62,537.71 L930.57,538.82 L931.39,539.96 L932.07,541.13 L932.6,542.33 L932.98,543.54 L933.2,544.77 L933.28,546 L933.2,547.23 L932.98,548.46 L932.6,549.67 L932.07,550.87 L931.39,552.04 L930.57,553.18 L929.62,554.29 L928.53,555.35 L927.31,556.36 L925.97,557.32 L924.51,558.23 Z" stroke="#111" stroke-width="1" fill="#fff" />
<line x1="524.72" y1="546" x2="524.72" y2="550.56" stroke="#111" stroke-width="1" />
<line x1="933.28" y1="546" x2="933.28" y2="550.56" stroke="#111" stroke-width="1" />
<line x1="924.51" y1="558.23" x2="924.51" y2="562.79" stroke="#444" stroke-width="0.7" />
<line x1="750.17" y1="658.88" x2="750.17" y2="663.44" stroke="#444" stroke-width="0.7" />
<line x1="707.83" y1="658.88" x2="707.83" y2="663.44" stroke="#444" stroke-width="0.7" />
<line x1="533.49" y1="558.23" x2="533.49" y2="562.79" stroke="#444" stroke-width="0.7" />
<path d="M810.56,489.21 L811.14,488.9 L811.75,488.61 L812.41,488.35 L813.09,488.11 L813.79,487.91 L814.52,487.73 L815.28,487.58 L816.04,487.46 L816.82,487.37 L817.61,487.32 L818.4,487.29 L819.2,487.3 L819.99,487.34 L820.77,487.41 L821.55,487.51 L822.31,487.65 L823.05,487.81 L823.77,488.01 L824.46,488.23 L825.13,488.48 L825.76,488.75 L826.36,489.06 L826.92,489.38 L827.45,489.73 L827.92,490.09 L828.36,490.48 L828.74,490.88 L829.08,491.29 L829.36,491.72 L829.59,492.16 L829.77,492.61 L829.9,493.06 L829.97,493.52 L829.98,493.98 L829.94,494.43 L829.84,494.89 L829.69,495.34 L829.48,495.78 L829.23,496.21 L828.92,496.64 L828.56,497.05 L828.15,497.44 L827.69,497.81 L827.19,498.17 L826.65,498.51 L793.55,517.62 L792.97,517.93 L792.35,518.22 L791.7,518.48 L791.02,518.72 L790.31,518.93 L789.58,519.11 L788.83,519.25 L788.06,519.37 L787.28,519.46 L786.49,519.52 L785.7,519.54 L784.9,519.53 L784.11,519.49 L783.33,519.42 L782.56,519.32 L781.8,519.18 L781.05,519.02 L780.33,518.83 L779.64,518.6 L778.97,518.35 L778.34,518.08 L777.74,517.78 L777.18,517.45 L776.66,517.11 L776.18,516.74 L775.75,516.36 L775.36,515.95 L775.03,515.54 L774.74,515.11 L774.51,514.67 L774.33,514.23 L774.21,513.77 L774.14,513.32 L774.12,512.86 L774.16,512.4 L774.26,511.94 L774.41,511.49 L774.62,511.05 L774.88,510.62 L775.19,510.2 L775.55,509.79 L775.96,509.39 L776.41,509.02 L776.91,508.66 L777.45,508.33 Z" stroke="#111" stroke-width="1" fill="#fff" />
<path d="M774.12,517.54 L774.15,517.07 L774.24,516.6 L774.38,516.14 L774.58,515.69 L774.84,515.24 L775.15,514.81 L775.51,514.39 L775.93,513.98 L776.39,513.6 L776.9,513.23 L777.45,512.89 L810.56,493.78 L811.15,493.46 L811.78,493.17 L812.45,492.9 L813.15,492.66 L813.88,492.45 L814.63,492.27 L815.4,492.12 L816.18,492 L816.98,491.92 L817.79,491.87 L818.6,491.85 L819.41,491.87 L820.22,491.92 L821.02,492 L821.81,492.12 L822.58,492.27 L823.33,492.45 L824.06,492.66 L824.75,492.9 L825.42,493.17 L826.05,493.46 L826.65,493.78 L827.2,494.12 L827.71,494.49 L828.18,494.87 L828.59,495.28 L828.95,495.7 L829.26,496.13 L829.52,496.57 L829.72,497.03 L829.87,497.49 L829.95,497.96 L829.98,498.42" stroke="#111" stroke-width="0.9" fill="none" />
<path d="M810.56,489.21 L810.56,493.78" stroke="#111" stroke-width="0.8" fill="none" />
<path d="M777.45,508.33 L777.45,512.89" stroke="#111" stroke-width="0.8" fill="none" />
<path d="M603.86,586.46 L603.13,586.01 L602.46,585.54 L601.85,585.03 L601.3,584.5 L600.82,583.96 L600.4,583.39 L600.05,582.81 L599.78,582.21 L599.57,581.61 L599.44,581 L599.39,580.38 L599.41,579.77 L599.5,579.16 L599.67,578.55 L599.91,577.95 L600.22,577.36 L600.6,576.78 L601.05,576.23 L601.57,575.69 L602.15,575.17 L602.79,574.68 L603.49,574.22 L604.24,573.78 L605.05,573.38 L605.9,573.01 L606.79,572.67 L607.73,572.37 L608.69,572.11 L609.69,571.89 L610.71,571.71 L611.74,571.57 L612.8,571.48 L613.86,571.42 L614.93,571.41 L615.99,571.45 L617.05,571.52 L618.09,571.64 L619.12,571.8 L620.13,572 L621.11,572.24 L622.06,572.52 L622.98,572.84 L623.85,573.19 L624.68,573.58 L625.46,574 L679.8,605.37 L680.53,605.82 L681.2,606.3 L681.81,606.81 L682.36,607.33 L682.85,607.88 L683.26,608.45 L683.61,609.03 L683.89,609.62 L684.09,610.23 L684.22,610.84 L684.28,611.45 L684.26,612.07 L684.16,612.68 L684,613.29 L683.76,613.89 L683.45,614.48 L683.06,615.05 L682.61,615.61 L682.1,616.15 L681.52,616.66 L680.87,617.16 L680.18,617.62 L679.42,618.06 L678.62,618.46 L677.77,618.83 L676.87,619.17 L675.94,619.46 L674.97,619.72 L673.98,619.94 L672.96,620.12 L671.92,620.26 L670.87,620.36 L669.81,620.41 L668.74,620.42 L667.68,620.39 L666.62,620.32 L665.57,620.2 L664.54,620.04 L663.53,619.84 L662.55,619.6 L661.6,619.32 L660.69,619 L659.82,618.65 L658.99,618.26 L658.21,617.84 Z" stroke="#111" stroke-width="1" fill="#fff" />
<path d="M599.39,584.79 L599.43,584.16 L599.54,583.54 L599.74,582.92 L600.01,582.31 L600.35,581.71 L600.77,581.13 L601.25,580.57 L601.81,580.03 L602.43,579.51 L603.12,579.02 L603.86,578.56 L604.66,578.13 L605.51,577.74 L606.4,577.38 L607.34,577.06 L608.31,576.77 L609.32,576.53 L610.36,576.33 L611.41,576.18 L612.49,576.07 L613.57,576 L614.66,575.98 L615.75,576 L616.83,576.07 L617.9,576.18 L618.96,576.33 L620,576.53 L621,576.77 L621.98,577.06 L622.92,577.38 L623.81,577.74 L624.66,578.13 L625.46,578.56 L679.8,609.94 L680.55,610.4 L681.23,610.89 L681.85,611.4 L682.41,611.95 L682.9,612.51 L683.32,613.09 L683.66,613.69 L683.93,614.3 L684.12,614.92 L684.24,615.54 L684.28,616.17" stroke="#111" stroke-width="0.9" fill="none" />
<path d="M625.46,574 L625.46,578.56" stroke="#111" stroke-width="0.8" fill="none" />
<path d="M679.8,605.37 L679.8,609.94" stroke="#111" stroke-width="0.8" fill="none" />
<path d="M712.86,438.98 L717.07,429.9 L732.79,427.47 L744.29,434.11 L744.29,448.13 L740.08,457.21 L724.37,459.64 L712.86,452.99 Z" stroke="#111" stroke-width="1" fill="#fff" />
<path d="M740.08,455.98 L740.08,445.23" stroke="#111" stroke-width="1" fill="none" />
<path d="M724.37,458.41 L724.37,447.66" stroke="#111" stroke-width="1" fill="none" />
<path d="M712.86,451.77 L712.86,441.01" stroke="#111" stroke-width="1" fill="none" />
<path d="M744.29,435.34 L740.08,444.41 L724.37,446.84 L712.86,440.2" stroke="#111" stroke-width="0.8" fill="none" />
<path d="M714.4,436.55 A14.17,8.18 0 1 0 742.75,436.55 A14.17,8.18 0 1 0 714.4,436.55 Z" stroke="#111" stroke-width="0.8" fill="#fff" />
<path d="M718.1,436.14 A10.48,6.05 0 1 0 739.06,436.14 A10.48,6.05 0 1 0 718.1,436.14 Z" stroke="#111" stroke-width="0.8" fill="#fff" />
<path d="M719.59,434.51 A8.98,5.19 0 1 0 737.56,434.51 A8.98,5.19 0 1 0 719.59,434.51 Z" stroke="#111" stroke-width="0.8" fill="#fff" />
<path d="M721.39,434.51 L721.39,431.25 M735.76,434.51 L735.76,431.25" stroke="#111" stroke-width="0.9" fill="none" />
<path d="M721.39,434.51 A7.19,4.15 0 0 0 735.76,434.51" stroke="#111" stroke-width="0.9" fill="#fff" />
<path d="M721.39,434.51 L721.39,431.25 L735.76,431.25 L735.76,434.51 Z" stroke="none" stroke-width="0" fill="#fff" />
<path d="M721.39,434.51 L721.39,431.25 M735.76,434.51 L735.76,431.25" stroke="#111" stroke-width="0.9" fill="none" />
<path d="M721.39,431.25 A7.19,4.15 0 1 0 735.76,431.25 A7.19,4.15 0 1 0 721.39,431.25 Z" stroke="#111" stroke-width="0.9" fill="#fff" />
<path d="M876.04,533.19 L880.26,524.12 L895.97,521.69 L907.48,528.33 L907.48,542.35 L903.26,551.42 L887.55,553.85 L876.04,547.21 Z" stroke="#111" stroke-width="1" fill="#fff" />
<path d="M903.26,550.2 L903.26,539.44" stroke="#111" stroke-width="1" fill="none" />
<path d="M887.55,552.63 L887.55,541.87" stroke="#111" stroke-width="1" fill="none" />
<path d="M876.04,545.99 L876.04,535.23" stroke="#111" stroke-width="1" fill="none" />
<path d="M907.48,529.55 L903.26,538.62 L887.55,541.06 L876.04,534.41" stroke="#111" stroke-width="0.8" fill="none" />
<path d="M877.59,530.76 A14.17,8.18 0 1 0 905.93,530.76 A14.17,8.18 0 1 0 877.59,530.76 Z" stroke="#111" stroke-width="0.8" fill="#fff" />
<path d="M881.28,530.35 A10.48,6.05 0 1 0 902.24,530.35 A10.48,6.05 0 1 0 881.28,530.35 Z" stroke="#111" stroke-width="0.8" fill="#fff" />
<path d="M882.78,528.72 A8.98,5.19 0 1 0 900.74,528.72 A8.98,5.19 0 1 0 882.78,528.72 Z" stroke="#111" stroke-width="0.8" fill="#fff" />
<path d="M884.57,528.72 L884.57,525.46 M898.95,528.72 L898.95,525.46" stroke="#111" stroke-width="0.9" fill="none" />
<path d="M884.57,528.72 A7.19,4.15 0 0 0 898.95,528.72" stroke="#111" stroke-width="0.9" fill="#fff" />
<path d="M884.57,528.72 L884.57,525.46 L898.95,525.46 L898.95,528.72 Z" stroke="none" stroke-width="0" fill="#fff" />
<path d="M884.57,528.72 L884.57,525.46 M898.95,528.72 L898.95,525.46" stroke="#111" stroke-width="0.9" fill="none" />
<path d="M884.57,525.46 A7.19,4.15 0 1 0 898.95,525.46 A7.19,4.15 0 1 0 884.57,525.46 Z" stroke="#111" stroke-width="0.9" fill="#fff" />
<path d="M550.52,532.7 L554.74,523.63 L570.45,521.2 L581.96,527.84 L581.96,541.86 L577.74,550.93 L562.03,553.36 L550.52,546.72 Z" stroke="#111" stroke-width="1" fill="#fff" />
<path d="M577.74,549.71 L577.74,538.95" stroke="#111" stroke-width="1" fill="none" />
<path d="M562.03,552.14 L562.03,541.38" stroke="#111" stroke-width="1" fill="none" />
<path d="M550.52,545.5 L550.52,534.74" stroke="#111" stroke-width="1" fill="none" />
<path d="M581.96,529.06 L577.74,538.14 L562.03,540.57 L550.52,533.92" stroke="#111" stroke-width="0.8" fill="none" />
<path d="M552.07,530.27 A14.17,8.18 0 1 0 580.41,530.27 A14.17,8.18 0 1 0 552.07,530.27 Z" stroke="#111" stroke-width="0.8" fill="#fff" />
<path d="M555.76,529.86 A10.48,6.05 0 1 0 576.72,529.86 A10.48,6.05 0 1 0 555.76,529.86 Z" stroke="#111" stroke-width="0.8" fill="#fff" />
<path d="M557.26,528.23 A8.98,5.19 0 1 0 575.22,528.23 A8.98,5.19 0 1 0 557.26,528.23 Z" stroke="#111" stroke-width="0.8" fill="#fff" />
<path d="M559.05,528.23 L559.05,524.97 M573.43,528.23 L573.43,524.97" stroke="#111" stroke-width="0.9" fill="none" />
<path d="M559.05,528.23 A7.19,4.15 0 0 0 573.43,528.23" stroke="#111" stroke-width="0.9" fill="#fff" />
<path d="M559.05,528.23 L559.05,524.97 L573.43,524.97 L573.43,528.23 Z" stroke="none" stroke-width="0" fill="#fff" />
<path d="M559.05,528.23 L559.05,524.97 M573.43,528.23 L573.43,524.97" stroke="#111" stroke-width="0.9" fill="none" />
<path d="M559.05,524.97 A7.19,4.15 0 1 0 573.43,524.97 A7.19,4.15 0 1 0 559.05,524.97 Z" stroke="#111" stroke-width="0.9" fill="#fff" />
<path d="M713.71,626.92 L717.92,617.84 L733.63,615.41 L745.14,622.05 L745.14,636.07 L740.93,645.14 L725.21,647.58 L713.71,640.93 Z" stroke="#111" stroke-width="1" fill="#fff" />
<path d="M740.93,643.92 L740.93,633.16" stroke="#111" stroke-width="1" fill="none" />
<path d="M725.21,646.35 L725.21,635.6" stroke="#111" stroke-width="1" fill="none" />
<path d="M713.71,639.71 L713.71,628.95" stroke="#111" stroke-width="1" fill="none" />
<path d="M745.14,623.28 L740.93,632.35 L725.21,634.78 L713.71,628.14" stroke="#111" stroke-width="0.8" fill="none" />
<path d="M715.25,624.48 A14.17,8.18 0 1 0 743.6,624.48 A14.17,8.18 0 1 0 715.25,624.48 Z" stroke="#111" stroke-width="0.8" fill="#fff" />
<path d="M718.94,624.08 A10.48,6.05 0 1 0 739.9,624.08 A10.48,6.05 0 1 0 718.94,624.08 Z" stroke="#111" stroke-width="0.8" fill="#fff" />
<path d="M720.44,622.45 A8.98,5.19 0 1 0 738.41,622.45 A8.98,5.19 0 1 0 720.44,622.45 Z" stroke="#111" stroke-width="0.8" fill="#fff" />
<path d="M722.24,622.45 L722.24,619.19 M736.61,622.45 L736.61,619.19" stroke="#111" stroke-width="0.9" fill="none" />
<path d="M722.24,622.45 A7.19,4.15 0 0 0 736.61,622.45" stroke="#111" stroke-width="0.9" fill="#fff" />
<path d="M722.24,622.45 L722.24,619.19 L736.61,619.19 L736.61,622.45 Z" stroke="none" stroke-width="0" fill="#fff" />
<path d="M722.24,622.45 L722.24,619.19 M736.61,622.45 L736.61,619.19" stroke="#111" stroke-width="0.9" fill="none" />
<path d="M722.24,619.19 A7.19,4.15 0 1 0 736.61,619.19 A7.19,4.15 0 1 0 722.24,619.19 Z" stroke="#111" stroke-width="0.9" fill="#fff" />
<g transform="translate(680,480) scale(0.082034)"><path d="M410,560 C340,590 300,640 320,690 C350,760 470,790 590,790 C720,790 840,750 870,680 C890,630 860,600 830,585" fill="#fff" stroke="#111" stroke-width="1" vector-effect="non-scaling-stroke"/><path d="M315,700 C330,780 470,825 590,825 C720,825 850,790 875,700" fill="none" stroke="#111" stroke-width="1" vector-effect="non-scaling-stroke"/><path d="M490,815 L495,838 C530,868 670,868 700,838 L705,812" fill="#fff" stroke="#111" stroke-width="1" vector-effect="non-scaling-stroke"/><path d="M400,580 L150,330 C120,280 130,190 190,140 C250,100 340,110 400,160 C440,200 455,260 460,330 L450,420 Z" fill="#fff" stroke="#111" stroke-width="1.1" vector-effect="non-scaling-stroke"/><path d="M145,250 C170,170 250,135 320,140 C390,150 430,210 440,300" fill="none" stroke="#111" stroke-width="0.8" vector-effect="non-scaling-stroke"/><path d="M160,275 C190,205 250,175 310,180 C380,190 410,245 418,330" fill="none" stroke="#111" stroke-width="0.8" vector-effect="non-scaling-stroke"/><path d="M418,330 L405,560" fill="none" stroke="#111" stroke-width="0.8" vector-effect="non-scaling-stroke"/><path d="M720,650 L790,590 L1000,490 C1040,460 1060,400 1040,330 C1010,260 930,235 860,245 C790,260 750,320 745,380 L745,400 Z" fill="#fff" stroke="#111" stroke-width="1.1" vector-effect="non-scaling-stroke"/><path d="M760,345 C790,285 860,258 920,262 C990,272 1030,322 1035,382 C1035,422 1020,462 1000,490" fill="none" stroke="#111" stroke-width="0.8" vector-effect="non-scaling-stroke"/><path d="M780,365 C800,315 860,290 910,294 C970,304 1010,344 1015,394" fill="none" stroke="#111" stroke-width="0.8" vector-effect="non-scaling-stroke"/><path d="M450,410 L410,585 C450,660 540,690 600,690 C660,690 700,670 720,650 L790,590 L745,400 Z" fill="#fff" stroke="#111" stroke-width="1" vector-effect="non-scaling-stroke"/><path d="M480,470 L460,600" fill="none" stroke="#111" stroke-width="0.7" vector-effect="non-scaling-stroke"/><path d="M705,470 L725,625" fill="none" stroke="#111" stroke-width="0.7" vector-effect="non-scaling-stroke"/><path d="M460,420 A140,55 0 0 0 740,420 A140,55 0 0 0 460,420 Z" fill="#fff" stroke="#111" stroke-width="0.9" vector-effect="non-scaling-stroke"/><path d="M490,385 A110,45 0 0 0 710,385 A110,45 0 0 0 490,385 Z" fill="#fff" stroke="#111" stroke-width="0.9" vector-effect="non-scaling-stroke"/><path d="M515,335 L515,370 A85,35 0 0 0 685,370 L685,335" fill="#fff" stroke="#111" stroke-width="0.9" vector-effect="non-scaling-stroke"/><path d="M515,335 A85,38 0 0 0 685,335 A85,38 0 0 0 515,335 Z" fill="#fff" stroke="#111" stroke-width="0.9" vector-effect="non-scaling-stroke"/></g>
<text x="1066.3" y="445.5" font-size="14" text-anchor="start" fill="#000" font-family="Liberation Sans" textLength="51.3" lengthAdjust="spacingAndGlyphs" >A (1 : 1)</text>
<path d="M1167.8,412.8 L1177.2,417.2 L1177.2,617.5 L1167.8,621.8 Z" stroke="#111" stroke-width="1" fill="none" />
<rect x="1177.8" y="471" width="7.1" height="93.3" fill="none" stroke="#111" stroke-width="1" rx="0" />
<path d="M1184.9,492.4 L1203.5,492.4 Q1205.8,504.7 1203.5,517 Q1205.8,529.6 1203.5,542.2 L1184.9,542.2 Z" stroke="#111" stroke-width="1" fill="none" />
<line x1="1184.9" y1="517" x2="1203.5" y2="517" stroke="#111" stroke-width="1" />
<line x1="1188" y1="492.4" x2="1188" y2="542.2" stroke="#555" stroke-width="0.8" />
<line x1="1136.5" y1="501.8" x2="1167.8" y2="501.8" stroke="#111" stroke-width="1" />
<line x1="1136.5" y1="533" x2="1167.8" y2="533" stroke="#111" stroke-width="1" />
<rect x="1129.4" y="471.7" width="7.1" height="92.6" fill="none" stroke="#111" stroke-width="1" rx="0" />
<line x1="1126.6" y1="490" x2="1126.6" y2="545" stroke="#111" stroke-width="1" />
<g transform="translate(1040,465) scale(0.109409)"><path d="M460,160 C400,128 300,115 210,125 C120,140 70,190 66,250 C62,310 95,360 160,392 C230,420 330,425 400,420 L660,405" fill="none" stroke="#111" stroke-width="1.1" vector-effect="non-scaling-stroke"/><path d="M75,300 C85,240 170,210 290,205 C370,205 430,225 460,255" fill="none" stroke="#111" stroke-width="0.8" vector-effect="non-scaling-stroke"/><path d="M100,335 C110,275 190,245 290,242 C370,242 430,262 470,285 L690,395" fill="none" stroke="#111" stroke-width="0.8" vector-effect="non-scaling-stroke"/><path d="M460,160 L700,275 L770,292" fill="none" stroke="#111" stroke-width="1.4" vector-effect="non-scaling-stroke"/><path d="M475,175 L700,290" fill="none" stroke="#111" stroke-width="0.6" vector-effect="non-scaling-stroke"/><path d="M610,225 L770,200 L770,295" fill="none" stroke="#111" stroke-width="0.9" vector-effect="non-scaling-stroke"/><path d="M465,255 L700,385 C740,405 765,425 770,450" fill="none" stroke="#111" stroke-width="0.9" vector-effect="non-scaling-stroke"/><path d="M465,165 L465,265" fill="none" stroke="#111" stroke-width="0.8" vector-effect="non-scaling-stroke"/><path d="M440,510 L770,495" fill="none" stroke="#111" stroke-width="0.9" vector-effect="non-scaling-stroke"/><path d="M440,470 L440,705" fill="none" stroke="#111" stroke-width="0.9" vector-effect="non-scaling-stroke"/><path d="M440,710 L770,765" fill="none" stroke="#111" stroke-width="0.9" vector-effect="non-scaling-stroke"/><path d="M770,200 L770,765" fill="none" stroke="#111" stroke-width="0.9" vector-effect="non-scaling-stroke"/><path d="M345,430 L420,430 C440,440 445,455 445,470 L445,610 L345,610 Z" fill="none" stroke="#111" stroke-width="1" vector-effect="non-scaling-stroke"/><path d="M365,435 L365,605" fill="none" stroke="#111" stroke-width="0.7" vector-effect="non-scaling-stroke"/><path d="M330,545 C240,548 140,570 95,610 C60,650 60,720 100,770 C150,825 250,848 330,845 C420,840 500,790 590,740" fill="none" stroke="#111" stroke-width="1.1" vector-effect="non-scaling-stroke"/><path d="M70,690 C90,640 180,630 330,628 L420,630" fill="none" stroke="#111" stroke-width="0.8" vector-effect="non-scaling-stroke"/><path d="M95,760 C100,700 180,680 300,675 L430,668" fill="none" stroke="#111" stroke-width="0.8" vector-effect="non-scaling-stroke"/><path d="M235,555 L235,668" fill="none" stroke="#111" stroke-width="0.8" vector-effect="non-scaling-stroke"/><path d="M330,628 L330,660 L420,660" fill="none" stroke="#111" stroke-width="0.8" vector-effect="non-scaling-stroke"/><path d="M770,232 L818,232" fill="none" stroke="#111" stroke-width="0.8" vector-effect="non-scaling-stroke"/><path d="M770,735 L818,735" fill="none" stroke="#111" stroke-width="0.8" vector-effect="non-scaling-stroke"/></g>
<circle cx="1151.3" cy="419.9" r="15" stroke="#111" stroke-width="1" fill="none" />
<text x="1151.3" y="424.9" font-size="14" text-anchor="middle" fill="#000" font-family="Liberation Sans" >8</text>
<line x1="1151.8" y1="434.9" x2="1155" y2="516" stroke="#111" stroke-width="1" />
<circle cx="1155" cy="516" r="1.1" stroke="none" stroke-width="1" fill="#111" />
<circle cx="1210.5" cy="427.6" r="15" stroke="#111" stroke-width="1" fill="none" />
<text x="1210.5" y="432.6" font-size="14" text-anchor="middle" fill="#000" font-family="Liberation Sans" >7</text>
<line x1="1196.3" y1="433.6" x2="1180.6" y2="483" stroke="#111" stroke-width="1" />
<circle cx="1180.6" cy="483" r="1.1" stroke="none" stroke-width="1" fill="#111" />
<circle cx="1031.3" cy="616.7" r="15" stroke="#111" stroke-width="1" fill="none" />
<text x="1031.3" y="621.7" font-size="14" text-anchor="middle" fill="#000" font-family="Liberation Sans" >6</text>
<line x1="1046.2" y1="609.2" x2="1106.7" y2="530.8" stroke="#111" stroke-width="1" />
<circle cx="1106.7" cy="530.8" r="1.1" stroke="none" stroke-width="1" fill="#111" />
<circle cx="1125.2" cy="616.7" r="15" stroke="#111" stroke-width="1" fill="none" />
<text x="1125.2" y="621.7" font-size="14" text-anchor="middle" fill="#000" font-family="Liberation Sans" >5</text>
<line x1="1125.3" y1="601.7" x2="1126.6" y2="539.3" stroke="#111" stroke-width="1" />
<circle cx="1126.6" cy="539.3" r="1.1" stroke="none" stroke-width="1" fill="#111" />
<circle cx="1149.3" cy="638.3" r="15" stroke="#111" stroke-width="1" fill="none" />
<text x="1149.3" y="643.3" font-size="14" text-anchor="middle" fill="#000" font-family="Liberation Sans" >7</text>
<line x1="1147" y1="623.5" x2="1133.7" y2="552" stroke="#111" stroke-width="1" />
<circle cx="1133.7" cy="552" r="1.1" stroke="none" stroke-width="1" fill="#111" />
</svg>
</body></html>
